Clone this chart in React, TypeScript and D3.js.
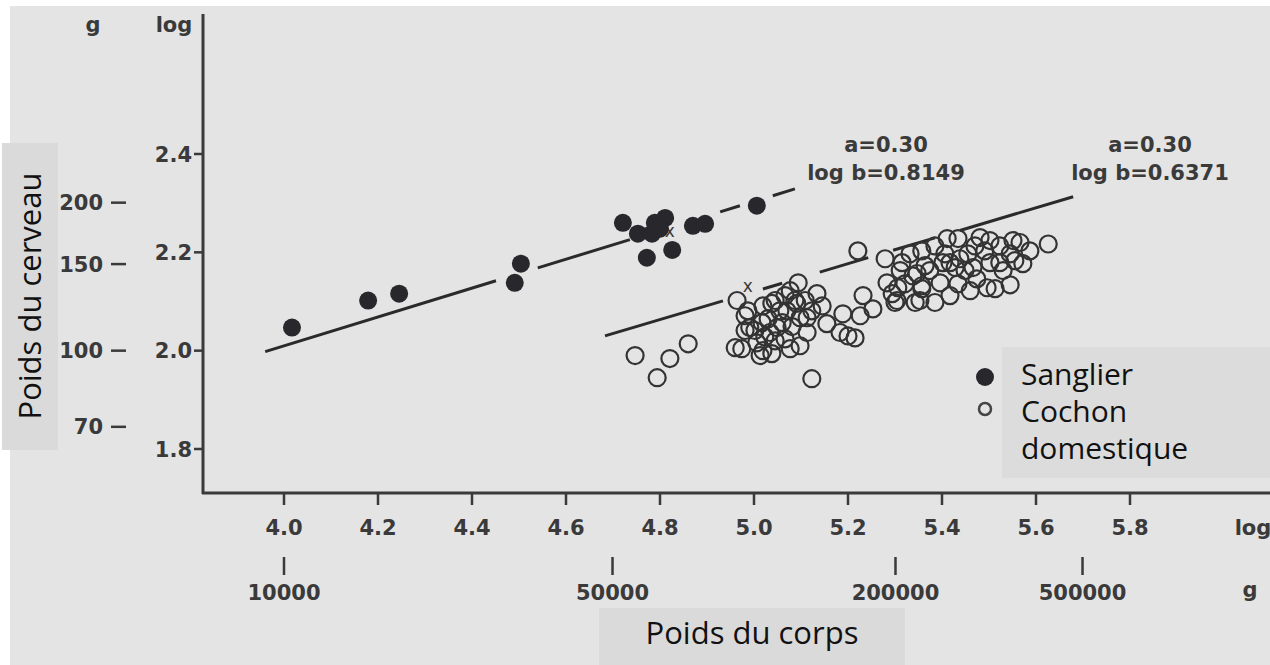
import React, { useEffect, useRef } from "react";
import * as d3 from "d3";

const W = 1270;
const H = 665;

const yLogTicks = [1.8, 2.0, 2.2, 2.4];
const yGramTicks = [70, 100, 150, 200];
const xLogTicks = [4.0, 4.2, 4.4, 4.6, 4.8, 5.0, 5.2, 5.4, 5.6, 5.8];
const xGramTicks = [10000, 50000, 200000, 500000];

// [log poids du corps, log poids du cerveau]
const sanglier = [
  [4.017, 2.047], [4.179, 2.102], [4.245, 2.116], [4.491, 2.138], [4.504, 2.177],
  [4.721, 2.26], [4.753, 2.238], [4.783, 2.238], [4.789, 2.26], [4.811, 2.27],
  [4.772, 2.189], [4.826, 2.205], [4.87, 2.254], [4.896, 2.258], [5.006, 2.295],
  [4.8, 2.248],
];

const cochon = [
  [4.747, 1.99], [4.794, 1.945], [4.821, 1.984], [4.86, 2.014], [4.964, 2.102],
  [4.987, 2.081], [4.991, 2.047], [5.006, 2.016], [4.974, 2.004], [4.96, 2.006],
  [5.017, 2.057], [5.019, 2.091], [5.038, 2.096], [5.034, 2.037], [5.038, 1.994],
  [5.019, 2.0], [5.066, 2.112], [5.06, 2.057], [5.077, 2.004], [5.113, 2.037],
  [5.098, 2.067], [5.091, 2.096], [5.094, 2.138], [5.134, 2.116], [5.145, 2.091],
  [5.155, 2.055], [5.189, 2.075], [5.2, 2.03], [5.123, 1.943], [5.07, 2.081],
  [5.049, 2.047], [5.087, 2.102], [5.113, 2.067], [5.183, 2.037], [5.215, 2.026],
  [5.226, 2.071], [5.253, 2.085], [5.232, 2.112], [5.221, 2.203], [5.279, 2.187],
  [5.283, 2.138], [5.294, 2.116], [5.304, 2.102], [5.315, 2.179], [5.332, 2.197],
  [5.357, 2.203], [5.347, 2.157], [5.357, 2.126], [5.306, 2.128], [5.3, 2.098],
  [5.338, 2.152], [5.357, 2.132], [5.385, 2.098], [5.374, 2.163], [5.396, 2.138],
  [5.402, 2.179], [5.411, 2.228], [5.434, 2.136], [5.428, 2.169], [5.434, 2.228],
  [5.455, 2.197], [5.466, 2.169], [5.474, 2.146], [5.481, 2.23], [5.491, 2.203],
  [5.496, 2.128], [5.513, 2.126], [5.523, 2.213], [5.53, 2.163], [5.545, 2.197],
  [5.566, 2.22], [5.572, 2.177], [5.626, 2.217], [5.551, 2.224], [5.417, 2.112],
  [5.449, 2.163], [5.502, 2.179], [5.555, 2.183], [5.321, 2.136], [5.343, 2.098],
  [5.406, 2.197], [5.47, 2.213], [5.545, 2.134], [4.981, 2.041], [5.045, 2.02],
  [5.098, 2.01], [5.03, 2.065], [5.055, 2.081], [5.081, 2.049], [5.002, 2.041],
  [5.023, 2.028], [4.981, 2.071], [5.077, 2.122], [5.109, 2.102], [5.045, 2.102],
  [5.013, 1.99], [5.066, 2.024], [5.123, 2.081], [5.311, 2.163], [5.364, 2.173],
  [5.417, 2.179], [5.385, 2.213], [5.438, 2.187], [5.502, 2.224], [5.523, 2.179],
  [5.587, 2.203], [5.46, 2.122], [5.353, 2.102],
];

// droites d'allométrie : extrémités et morceaux visibles (en log du corps)
const sanglierLine = [[3.96, 1.998], [5.087, 2.329]];
const sanglierPieces = [[3.96, 4.451], [4.54, 4.736], [4.928, 4.97], [5.04, 5.087]];
const cochonLine = [[4.683, 2.03], [5.679, 2.313]];
const cochonPieces = [[4.683, 4.934], [5.019, 5.06], [5.14, 5.243], [5.296, 5.385], [5.438, 5.679]];
const means = [[4.821, 2.244], [4.987, 2.132]];

const sanglierLabel = ["a=0.30", "log b=0.8149"];
const cochonLabel = ["a=0.30", "log b=0.6371"];
const legendItems = ["Sanglier", "Cochon", "domestique"];

const tickFont = "'DejaVu Sans', sans-serif";
const labelFont = "'Open Sans', sans-serif";
const ink = "#3a3a3a";

const App = () => {
  const svgRef = useRef(null);

  useEffect(() => {
    const svg = d3.select(svgRef.current);
    svg.selectAll("*").remove();

    const x = d3.scaleLinear().domain([4, 5.8]).range([284, 1130]);
    const y = d3.scaleLinear().domain([1.8, 2.4]).range([449, 154]);

    svg.append("rect").attr("width", W).attr("height", H).attr("fill", "#ffffff");
    svg.append("rect").attr("x", 10).attr("y", 6).attr("width", W - 10).attr("height", H - 6).attr("fill", "#e4e4e4");

    // axes
    svg.append("line").attr("x1", 203).attr("x2", 203).attr("y1", 14).attr("y2", 494)
      .attr("stroke", ink).attr("stroke-width", 3);
    svg.append("line").attr("x1", 202).attr("x2", W).attr("y1", 493).attr("y2", 493)
      .attr("stroke", ink).attr("stroke-width", 3);

    const tickText = (sel) =>
      sel.style("font-family", tickFont).style("font-weight", "bold").style("font-size", "21px").attr("fill", ink);

    // y: log
    yLogTicks.forEach((v) => {
      svg.append("line").attr("x1", 194).attr("x2", 203).attr("y1", y(v)).attr("y2", y(v))
        .attr("stroke", ink).attr("stroke-width", 2.5);
      svg.append("text").attr("x", 192).attr("y", y(v)).attr("dy", "0.36em")
        .attr("text-anchor", "end").call(tickText).text(v.toFixed(1));
    });
    // y: grammes
    yGramTicks.forEach((g) => {
      const yy = y(Math.log10(g));
      svg.append("line").attr("x1", 111).attr("x2", 126).attr("y1", yy).attr("y2", yy)
        .attr("stroke", ink).attr("stroke-width", 2.5);
      svg.append("text").attr("x", 103).attr("y", yy).attr("dy", "0.36em")
        .attr("text-anchor", "end").call(tickText).text(g);
    });
    svg.append("text").attr("x", 93).attr("y", 32).attr("text-anchor", "middle").call(tickText).text("g");
    svg.append("text").attr("x", 174).attr("y", 32).attr("text-anchor", "middle").call(tickText).text("log");

    // x: log
    xLogTicks.forEach((v) => {
      svg.append("line").attr("x1", x(v)).attr("x2", x(v)).attr("y1", 493).attr("y2", 505)
        .attr("stroke", ink).attr("stroke-width", 2.5);
      svg.append("text").attr("x", x(v)).attr("y", 535).attr("text-anchor", "middle")
        .call(tickText).text(v.toFixed(1));
    });
    // x: grammes
    xGramTicks.forEach((g) => {
      const xx = x(Math.log10(g));
      svg.append("line").attr("x1", xx).attr("x2", xx).attr("y1", 557).attr("y2", 575)
        .attr("stroke", ink).attr("stroke-width", 2.5);
      svg.append("text").attr("x", xx).attr("y", 600).attr("text-anchor", "middle")
        .call(tickText).text(g);
    });
    svg.append("text").attr("x", 1253).attr("y", 535).attr("text-anchor", "middle").call(tickText).text("log");
    svg.append("text").attr("x", 1250).attr("y", 597).attr("text-anchor", "middle").call(tickText).text("g");

    // droites
    const drawFit = (line, pieces) => {
      const [p0, p1] = line;
      const slope = (p1[1] - p0[1]) / (p1[0] - p0[0]);
      const fy = (v) => p0[1] + (v - p0[0]) * slope;
      pieces.forEach(([a, b]) => {
        svg.append("line")
          .attr("x1", x(a)).attr("y1", y(fy(a)))
          .attr("x2", x(b)).attr("y2", y(fy(b)))
          .attr("stroke", "#2a2a2a").attr("stroke-width", 3);
      });
    };
    drawFit(sanglierLine, sanglierPieces);
    drawFit(cochonLine, cochonPieces);

    means.forEach(([mx, my]) => {
      svg.append("text").attr("x", x(mx)).attr("y", y(my)).attr("dy", "0.35em")
        .attr("text-anchor", "middle").style("font-family", tickFont).style("font-size", "17px")
        .attr("fill", ink).text("x");
    });

    // points
    svg.append("g").selectAll("circle").data(cochon).join("circle")
      .attr("cx", (d) => x(d[0])).attr("cy", (d) => y(d[1])).attr("r", 8.5)
      .attr("fill", "none").attr("stroke", "#333").attr("stroke-width", 2.2);
    svg.append("g").selectAll("circle").data(sanglier).join("circle")
      .attr("cx", (d) => x(d[0])).attr("cy", (d) => y(d[1])).attr("r", 9)
      .attr("fill", "#27272c");

    // annotations
    const annot = (lines, cx) => {
      lines.forEach((t, i) => {
        svg.append("text").attr("x", cx).attr("y", 152 + i * 28).attr("text-anchor", "middle")
          .call(tickText).text(t);
      });
    };
    annot(sanglierLabel, 886);
    annot(cochonLabel, 1150);

    // titres d'axes
    svg.append("rect").attr("x", 2).attr("y", 143).attr("width", 56).attr("height", 307).attr("fill", "#dadada");
    svg.append("text").attr("transform", "translate(41,296) rotate(-90)").attr("text-anchor", "middle")
      .style("font-family", labelFont).style("font-size", "31px").attr("fill", "#111").text("Poids du cerveau");
    svg.append("rect").attr("x", 599).attr("y", 608).attr("width", 306).attr("height", 57).attr("fill", "#dadada");
    svg.append("text").attr("x", 752).attr("y", 644).attr("text-anchor", "middle")
      .style("font-family", labelFont).style("font-size", "31px").attr("fill", "#111").text("Poids du corps");

    // légende
    svg.append("rect").attr("x", 1002).attr("y", 347).attr("width", W - 1002).attr("height", 131).attr("fill", "#dcdcdc");
    svg.append("circle").attr("cx", 985).attr("cy", 377).attr("r", 9).attr("fill", "#27272c");
    svg.append("circle").attr("cx", 985).attr("cy", 409).attr("r", 6).attr("fill", "none")
      .attr("stroke", "#444").attr("stroke-width", 2.5);
    const legendText = svg.append("text").attr("x", 1021).attr("y", 385)
      .style("font-family", labelFont).style("font-size", "30px").attr("fill", "#111");
    legendItems.forEach((t, i) => {
      legendText.append("tspan").attr("x", 1021).attr("dy", i === 0 ? 0 : 37).text(t);
    });
  }, []);

  return (
    <div style={{ position: "absolute", left: 0, top: 0 }}>
      <svg ref={svgRef} width={W} height={H} style={{ display: "block" }}></svg>
    </div>
  );
};

export default App;
